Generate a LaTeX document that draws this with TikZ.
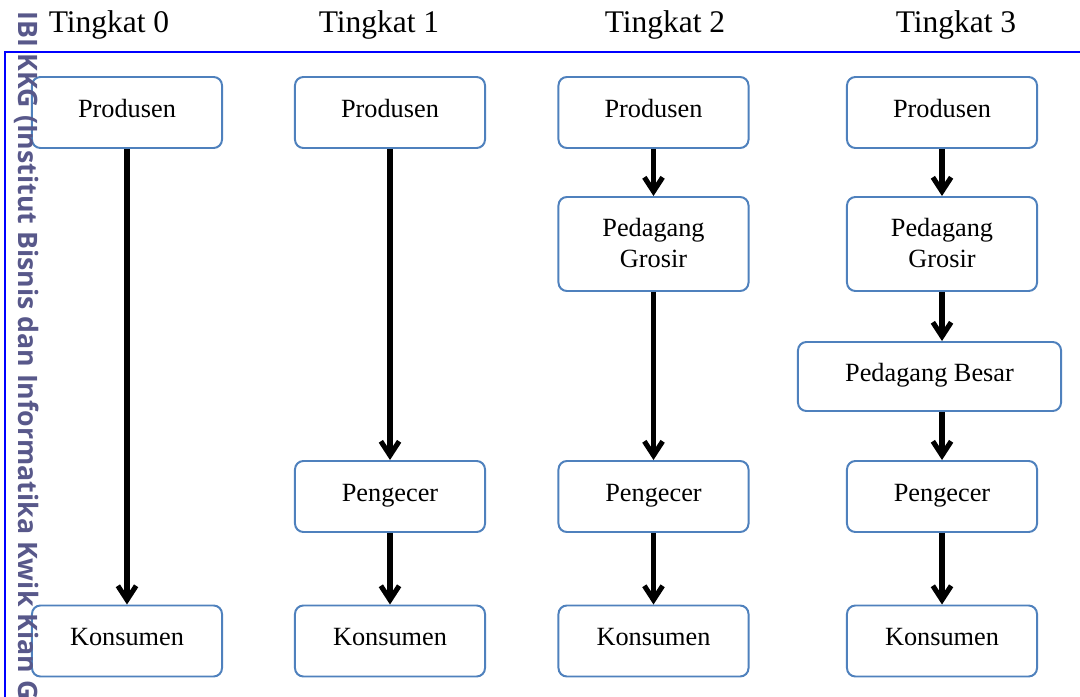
\documentclass[tikz,border=0pt]{standalone}
\usepackage{fontspec}
\setmainfont{Liberation Serif}
\newfontfamily\markfont{Open Sans}
\usetikzlibrary{arrows.meta}
\definecolor{boxline}{RGB}{79,129,189}
\definecolor{markgrey}{RGB}{88,88,138}
\begin{document}
\begin{tikzpicture}[x=0.025cm,y=-0.025cm,
        kotak/.style={draw=boxline,line width=1.4pt,rounded corners=6pt,fill=white,
            minimum width=4.75cm,minimum height=1.775cm,align=center,text depth=0.55em,
            font=\fontsize{18.7}{22}\selectfont},
        judul/.style={font=\fontsize{22.4}{26}\selectfont},
        panah/.style={line width=3.6pt,-{Straight Barb[length=10pt,width=13pt]}}]
                \useasboundingbox (0,0) rectangle (1080,697);
                \draw[blue,line width=1.4pt] (1080,52) -- (5,52) -- (5,697);
                % judul tingkat
                \node[judul] (t0) at (109,25) {Tingkat 0};
                \node[judul] (t1) at (379,25) {Tingkat 1};
                \node[judul] (t2) at (665,25) {Tingkat 2};
                \node[judul] (t3) at (956,25) {Tingkat 3};
                % tingkat 0
                \node[kotak] (prod0) at (127,112.5) {Produsen};
                \node[kotak] (kons0) at (127,641) {Konsumen};
                \draw[panah] (prod0) -- (kons0);
                % tingkat 1
                \node[kotak] (prod1) at (390,112.5) {Produsen};
                \node[kotak] (ecer1) at (390,496.5) {Pengecer};
                \node[kotak] (kons1) at (390,641) {Konsumen};
                \draw[panah] (prod1) -- (ecer1);
                \draw[panah] (ecer1) -- (kons1);
                % tingkat 2
                \node[kotak] (prod2) at (653.5,112.5) {Produsen};
                \node[kotak,minimum height=2.35cm,text depth=0.1em] (gros2) at (653.5,244) {Pedagang\\Grosir};
                \node[kotak] (ecer2) at (653.5,496.5) {Pengecer};
                \node[kotak] (kons2) at (653.5,641) {Konsumen};
                \draw[panah] (prod2) -- (gros2);
                \draw[panah] (gros2) -- (ecer2);
                \draw[panah] (ecer2) -- (kons2);
                % tingkat 3
                \node[kotak] (prod3) at (942,112.5) {Produsen};
                \node[kotak,minimum height=2.35cm,text depth=0.1em] (gros3) at (942,244) {Pedagang\\Grosir};
                \node[kotak,minimum width=6.575cm,minimum height=1.725cm] (besar3) at (929.5,376.5) {Pedagang Besar};
                \node[kotak] (ecer3) at (942,496.5) {Pengecer};
                \node[kotak] (kons3) at (942,641) {Konsumen};
                \draw[panah] (prod3) -- (gros3);
                \draw[panah] (gros3.south) -- (gros3.south |- besar3.north);
                \draw[panah] (ecer3 |- besar3.south) -- (ecer3.north);
                \draw[panah] (ecer3) -- (kons3);
                % tanda air di tepi kiri
                \node[markgrey,rotate=-90,anchor=south west,inner sep=0pt,font=\markfont\bfseries\fontsize{19}{22}\selectfont]
                    (tanda) at (14,11) {IBI KKG (Institut Bisnis dan Informatika Kwik Kian Gie)};
            \end{tikzpicture}
\end{document}
